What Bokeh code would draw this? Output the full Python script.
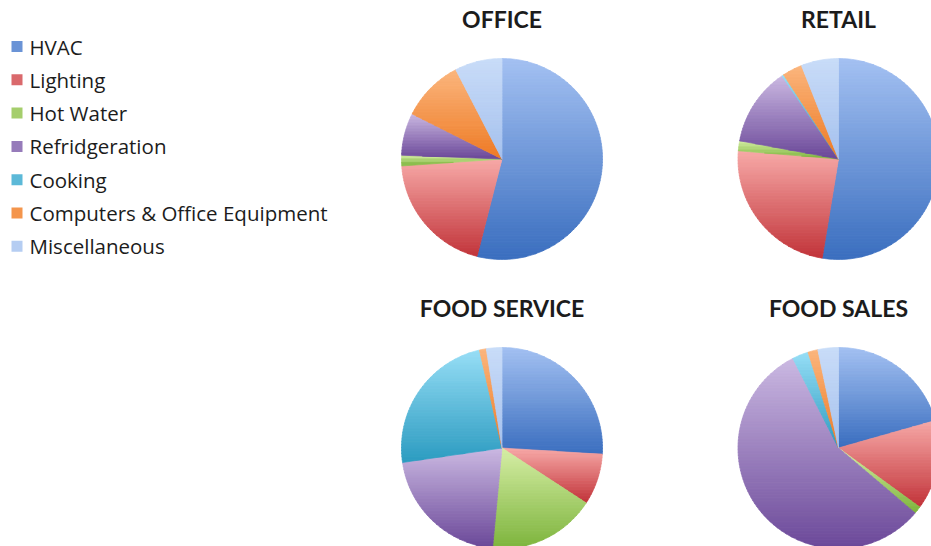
import numpy as np
from bokeh.plotting import figure
from bokeh.models import Range1d, ColumnDataSource
from bokeh.embed import file_html
from bokeh.resources import INLINE
from bokeh.core.properties import value

# Energy end-use shares (%) by building type
categories = ["HVAC", "Lighting", "Hot Water", "Refridgeration", "Cooking",
              "Computers & Office Equipment", "Miscellaneous"]
buildings = ["OFFICE", "RETAIL", "FOOD SERVICE", "FOOD SALES"]
office = [54.0, 19.9, 1.7, 6.8, 0.0, 10.0, 7.6]
retail = [52.6, 23.7, 1.6, 12.6, 0.3, 3.2, 6.0]
food_service = [26.0, 8.2, 17.3, 21.2, 23.7, 1.1, 2.5]
food_sales = [20.6, 14.4, 1.2, 56.3, 2.6, 1.6, 3.3]
shares = [office, retail, food_service, food_sales]

# gradient end colours per category (top -> bottom of each slice)
top_colors = ["#a4c1f2", "#f7aaa8", "#d6eea6", "#cbb9e2", "#97def6", "#fbb67e", "#c9dcf8"]
bottom_colors = ["#3a6ebf", "#c2343a", "#7db43c", "#6b4899", "#2b9bc0", "#ee7a24", "#a5c1ee"]

W, H = 931, 546
col_x = [501.5, 838.0]
row_y = [158.5, 447.5]
R = 100.5
TEXT = "#1c1c1c"


def hex_rgb(h):
    h = h.lstrip("#")
    return np.array([int(h[i:i + 2], 16) for i in (0, 2, 4)], dtype=float)


def mix(c0, c1, t):
    c = hex_rgb(c0) * (1 - t) + hex_rgb(c1) * t
    return "#%02x%02x%02x" % tuple(int(round(v)) for v in c)


def clip_poly(pts, keep, inter):
    out = []
    for i in range(len(pts)):
        cur, prev = pts[i], pts[i - 1]
        if keep(cur):
            if not keep(prev):
                out.append(inter(prev, cur))
            out.append(cur)
        elif keep(prev):
            out.append(inter(prev, cur))
    return out


def at_y(yc):
    def f(a, b):
        t = (yc - a[1]) / (b[1] - a[1])
        return (a[0] + t * (b[0] - a[0]), yc)
    return f


def band(pts, y0, y1):
    pts = clip_poly(pts, lambda p: p[1] >= y0, at_y(y0))
    if pts:
        pts = clip_poly(pts, lambda p: p[1] <= y1, at_y(y1))
    return pts


p = figure(width=W, height=H, x_range=Range1d(0, W), y_range=Range1d(H, 0),
           x_axis_type=None, y_axis_type=None, toolbar_location=None,
           output_backend="svg", min_border=0, outline_line_color=None,
           background_fill_color="white", border_fill_color="white")
p.grid.visible = False

# each slice is filled as thin horizontal bands, shading light at its top to dark at its bottom
xs_all, ys_all, fills = [], [], []
for k, vals in enumerate(shares):
    cx, cy = col_x[k % 2], row_y[k // 2]
    total = float(sum(vals))
    start = 0.0
    for i, v in enumerate(vals):
        if v <= 0:
            continue
        a0 = start / total * 2 * np.pi
        a1 = (start + v) / total * 2 * np.pi
        start += v
        n = max(4, int(np.degrees(a1 - a0) / 1.5))
        th = np.linspace(a0, a1, n)
        px = np.concatenate([[cx], cx + R * np.sin(th)])
        py = np.concatenate([[cy], cy - R * np.cos(th)])
        pts = list(zip(px, py))
        ymin, ymax = py.min(), py.max()
        nb = max(2, int((ymax - ymin) / 3))
        edges = np.linspace(ymin, ymax, nb + 1)
        for b in range(nb):
            seg = band(pts, edges[b], edges[b + 1] + 0.4)
            if len(seg) < 3:
                continue
            t = (0.5 * (edges[b] + edges[b + 1]) - ymin) / max(ymax - ymin, 1e-6)
            xs_all.append([q[0] for q in seg])
            ys_all.append([q[1] for q in seg])
            fills.append(mix(top_colors[i], bottom_colors[i], t))

p.patches("xs", "ys", source=ColumnDataSource(dict(xs=xs_all, ys=ys_all, c=fills)),
          fill_color="c", line_color="c", line_width=0.7)

# chart titles
tsrc = ColumnDataSource(dict(
    x=[col_x[k % 2] for k in range(4)],
    y=[row_y[k // 2] - 140 for k in range(4)],
    t=buildings))
p.text("x", "y", text="t", source=tsrc, text_align="center", text_baseline="middle",
       text_font=value("Lato"), text_font_style="bold", text_font_size="23px",
       text_color=TEXT)

# legend
idx = np.arange(len(categories))
ly = 46 + idx * 33.3
lsrc = ColumnDataSource(dict(
    y=ly, t=categories,
    c=[mix(top_colors[i], bottom_colors[i], 0.55) for i in idx]))
p.rect(x=16.5, y="y", width=11, height=11, source=lsrc, fill_color="c", line_color=None)
p.text(x=29, y="y", text="t", source=lsrc, text_align="left", text_baseline="middle",
       text_font=value("Open Sans"), text_font_size="20.5px", text_color=TEXT)

open("out.html", "w").write(file_html(p, INLINE))
